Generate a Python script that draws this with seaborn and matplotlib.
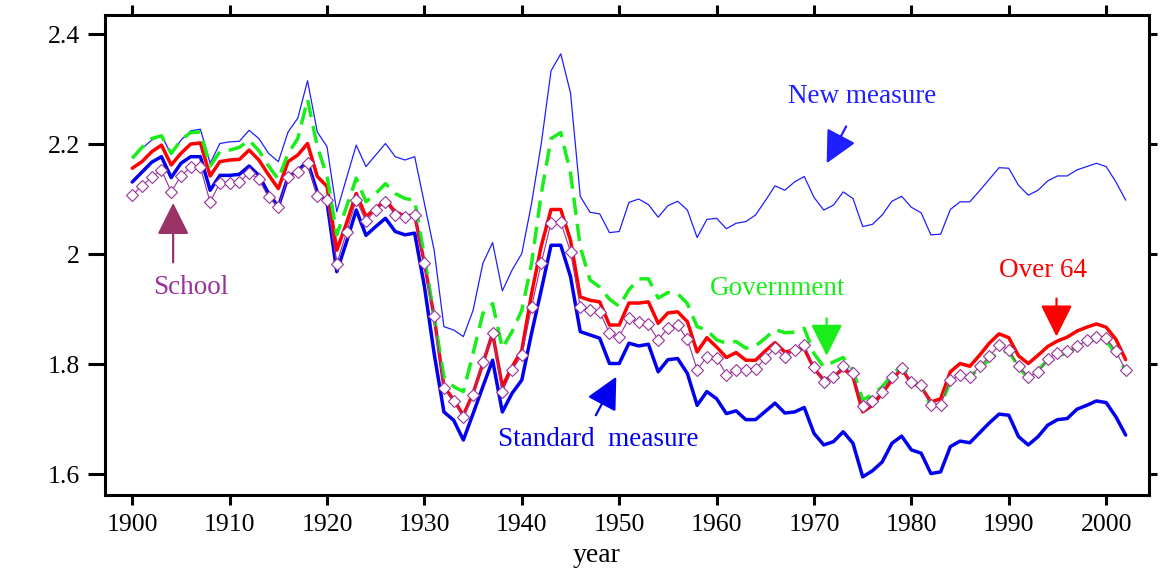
import numpy as np
import pandas as pd
import matplotlib
matplotlib.use("Agg")
import matplotlib.pyplot as plt
from matplotlib.ticker import FuncFormatter
import seaborn as sns

years = list(range(1900, 2003))

new_measure = [
    2.176, 2.192, 2.207, 2.216, 2.181, 2.207, 2.224, 2.227, 2.165, 2.201,
    2.204, 2.205, 2.225, 2.210, 2.183, 2.168, 2.222, 2.247, 2.315, 2.222,
    2.195, 2.077, 2.138, 2.198, 2.159, 2.180, 2.201, 2.177, 2.171, 2.177,
    2.092, 2.007, 1.868, 1.862, 1.850, 1.898, 1.983, 2.021, 1.933, 1.971,
    2.001, 2.092, 2.201, 2.333, 2.364, 2.293, 2.105, 2.076, 2.073, 2.039,
    2.041, 2.094, 2.100, 2.090, 2.067, 2.088, 2.096, 2.080, 2.030, 2.063,
    2.065, 2.046, 2.056, 2.059, 2.071, 2.097, 2.124, 2.116, 2.131, 2.141,
    2.103, 2.080, 2.089, 2.113, 2.101, 2.050, 2.054, 2.071, 2.096, 2.105,
    2.085, 2.075, 2.035, 2.036, 2.081, 2.095, 2.095, 2.115, 2.136, 2.157,
    2.156, 2.125, 2.107, 2.116, 2.133, 2.142, 2.142, 2.153, 2.159, 2.165,
    2.159, 2.131, 2.098,
]

government = [
    2.174, 2.194, 2.210, 2.215, 2.183, 2.207, 2.221, 2.222, 2.160, 2.186,
    2.189, 2.194, 2.207, 2.188, 2.160, 2.136, 2.183, 2.210, 2.281, 2.195,
    2.142, 2.035, 2.086, 2.138, 2.095, 2.110, 2.128, 2.110, 2.101, 2.098,
    1.995, 1.886, 1.777, 1.759, 1.750, 1.820, 1.892, 1.910, 1.829, 1.859,
    1.898, 1.983, 2.110, 2.210, 2.221, 2.147, 2.013, 1.953, 1.940, 1.918,
    1.905, 1.935, 1.955, 1.955, 1.920, 1.930, 1.928, 1.910, 1.868, 1.862,
    1.844, 1.838, 1.841, 1.829, 1.833, 1.847, 1.863, 1.857, 1.858, 1.865,
    1.819, 1.795, 1.804, 1.812, 1.789, 1.735, 1.744, 1.759, 1.780, 1.798,
    1.771, 1.759, 1.724, 1.725, 1.768, 1.777, 1.777, 1.792, 1.808, 1.822,
    1.823, 1.795, 1.774, 1.789, 1.807, 1.816, 1.819, 1.831, 1.839, 1.847,
    1.842, 1.819, 1.788,
]

over_64 = [
    2.156, 2.168, 2.186, 2.198, 2.162, 2.183, 2.200, 2.202, 2.142, 2.168,
    2.171, 2.172, 2.189, 2.171, 2.144, 2.119, 2.168, 2.180, 2.201, 2.141,
    2.123, 2.007, 2.056, 2.110, 2.068, 2.083, 2.098, 2.077, 2.069, 2.071,
    1.983, 1.886, 1.759, 1.735, 1.707, 1.747, 1.801, 1.856, 1.759, 1.795,
    1.825, 1.928, 2.015, 2.081, 2.081, 2.025, 1.922, 1.916, 1.913, 1.871,
    1.871, 1.911, 1.911, 1.913, 1.874, 1.893, 1.895, 1.877, 1.822, 1.848,
    1.831, 1.812, 1.821, 1.807, 1.807, 1.824, 1.839, 1.822, 1.825, 1.828,
    1.792, 1.771, 1.777, 1.792, 1.777, 1.713, 1.725, 1.747, 1.771, 1.792,
    1.765, 1.759, 1.731, 1.737, 1.786, 1.801, 1.796, 1.816, 1.838, 1.855,
    1.848, 1.815, 1.801, 1.816, 1.832, 1.842, 1.849, 1.860, 1.867, 1.873,
    1.867, 1.845, 1.808,
]

standard_measure = [
    2.131, 2.149, 2.167, 2.177, 2.139, 2.165, 2.177, 2.177, 2.116, 2.143,
    2.143, 2.145, 2.160, 2.143, 2.110, 2.086, 2.140, 2.152, 2.168, 2.112,
    2.094, 1.968, 2.022, 2.080, 2.034, 2.050, 2.065, 2.041, 2.035, 2.038,
    1.941, 1.819, 1.713, 1.698, 1.662, 1.710, 1.759, 1.807, 1.713, 1.747,
    1.771, 1.856, 1.935, 2.016, 2.016, 1.959, 1.859, 1.853, 1.847, 1.801,
    1.801, 1.838, 1.833, 1.836, 1.786, 1.808, 1.810, 1.783, 1.725, 1.750,
    1.737, 1.710, 1.715, 1.699, 1.699, 1.714, 1.729, 1.711, 1.713, 1.721,
    1.674, 1.653, 1.659, 1.677, 1.656, 1.595, 1.606, 1.622, 1.656, 1.669,
    1.644, 1.638, 1.601, 1.604, 1.650, 1.660, 1.657, 1.675, 1.693, 1.709,
    1.707, 1.668, 1.653, 1.668, 1.689, 1.699, 1.701, 1.718, 1.725, 1.733,
    1.730, 1.704, 1.671,
]

school = [
    2.107, 2.124, 2.140, 2.153, 2.113, 2.142, 2.158, 2.158, 2.094, 2.130,
    2.130, 2.131, 2.148, 2.136, 2.103, 2.086, 2.140, 2.149, 2.166, 2.105,
    2.098, 1.982, 2.040, 2.098, 2.060, 2.080, 2.095, 2.071, 2.067, 2.071,
    1.983, 1.887, 1.756, 1.732, 1.704, 1.744, 1.804, 1.856, 1.750, 1.789,
    1.816, 1.904, 1.984, 2.057, 2.058, 2.004, 1.904, 1.899, 1.895, 1.856,
    1.850, 1.883, 1.877, 1.872, 1.844, 1.865, 1.871, 1.845, 1.790, 1.813,
    1.811, 1.781, 1.789, 1.789, 1.791, 1.811, 1.829, 1.813, 1.825, 1.834,
    1.794, 1.768, 1.777, 1.796, 1.783, 1.723, 1.732, 1.750, 1.777, 1.792,
    1.768, 1.762, 1.726, 1.726, 1.771, 1.780, 1.776, 1.796, 1.814, 1.834,
    1.826, 1.796, 1.777, 1.785, 1.809, 1.821, 1.823, 1.832, 1.843, 1.850,
    1.848, 1.823, 1.789,
]

x_ticks = [1900, 1910, 1920, 1930, 1940, 1950, 1960, 1970, 1980, 1990, 2000]
y_ticks = [1.6, 1.8, 2.0, 2.2, 2.4]

sns.set_theme(style="white")
plt.rcParams["font.family"] = ["Liberation Serif", "DejaVu Serif"]

fig = plt.figure(figsize=(11.65, 5.78), dpi=100)
ax = fig.add_axes([0.0901, 0.1436, 0.8962, 0.8299])

sns.lineplot(x=years, y=new_measure, ax=ax, color="#1f1fff", linewidth=0.9)
sns.lineplot(x=years, y=standard_measure, ax=ax, color="#0000ee", linewidth=2.5)
sns.lineplot(x=years, y=over_64, ax=ax, color="#ff0000", linewidth=2.5)
sns.lineplot(x=years, y=government, ax=ax, color="#1aee1a", linewidth=2.5,
             linestyle=(0, (5, 2.6)))
sns.lineplot(x=years, y=school, ax=ax, color="#993399", linewidth=0.8,
             marker="D", markersize=6, markerfacecolor="white",
             markeredgecolor="#993399", markeredgewidth=0.8)

ax.set_xlim(1897.2, 2004.4)
ax.set_ylim(1.562, 2.434)
ax.set_xticks(x_ticks)
ax.set_yticks(y_ticks)
ax.yaxis.set_major_formatter(FuncFormatter(lambda v, p: f"{v:g}"))
ax.set_xlabel("")
ax.set_ylabel("")
fig.text(597 / 1165, 1 - 556 / 578, "year", fontsize=20, ha="center",
         va="center", color="black")

for side in ["left", "right", "top", "bottom"]:
    ax.spines[side].set_visible(True)
    ax.spines[side].set_color("black")
    ax.spines[side].set_linewidth(2.2)

ax.tick_params(axis="both", which="major", direction="out", color="black",
               width=2.2, labelsize=18.5, labelcolor="black")
ax.tick_params(axis="y", left=True, right=True, length=12, pad=6)
ax.tick_params(axis="x", bottom=True, top=True, length=7, pad=7)
# shorter outward ticks on the right-hand spine
for t in ax.yaxis.get_major_ticks():
    t.tick2line.set_markersize(6)
ax.grid(False)

def label(text, xy_text, tail, tip, color, arrow_color=None):
    ac = arrow_color or color
    ax.text(xy_text[0], xy_text[1], text, color=color, fontsize=19.5,
            ha="center", va="center")
    ax.annotate("", xy=tip, xytext=tail,
                arrowprops=dict(arrowstyle="-|>,head_length=0.9,head_width=0.45",
                                color=ac, lw=1.6, mutation_scale=22,
                                shrinkA=0, shrinkB=0))

label("New measure", (1974.9, 2.287), (1973.3, 2.232), (1971.3, 2.165), "#1f1fff")
label("Government", (1966.3, 1.937), (1971.3, 1.883), (1971.3, 1.815), "#1aee1a")
label("Over 64", (1993.5, 1.970), (1994.9, 1.919), (1994.9, 1.850), "#ff0000")
label("School", (1906.0, 1.940), (1904.2, 1.985), (1904.2, 2.093), "#993399",
      arrow_color="#993366")
label("Standard  measure", (1947.8, 1.662), (1947.6, 1.707), (1949.7, 1.777),
      "#0000ee")

fig.savefig("out.png", dpi=100)
